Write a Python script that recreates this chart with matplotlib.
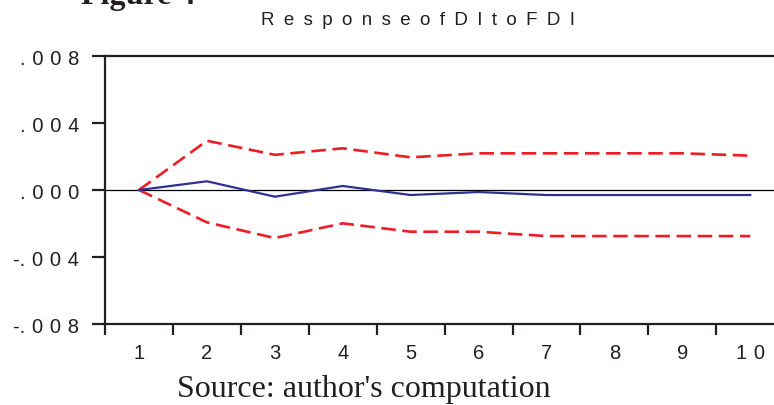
import matplotlib.pyplot as plt

periods = [1, 2, 3, 4, 5, 6, 7, 8, 9, 10]
response = [0.0, 0.00052, -0.0004, 0.00024, -0.0003, -0.00012, -0.0003, -0.0003, -0.0003, -0.0003]
upper = [0.0, 0.00294, 0.0021, 0.00249, 0.00195, 0.00219, 0.00219, 0.00219, 0.00219, 0.00205]
lower = [0.0, -0.00193, -0.00287, -0.00199, -0.00249, -0.00249, -0.00275, -0.00275, -0.00275, -0.00275]

yticks = [-0.008, -0.004, 0.0, 0.004, 0.008]
ytick_labels = ["-.008", "-.004", ".000", ".004", ".008"]


def spaced(s, sp="\u2004"):
    return sp.join(list(s)).replace("-" + sp, "-")


fig = plt.figure(figsize=(7.74, 4.06), dpi=100)
ax = fig.add_axes([0.1357, 0.1995, 0.8643, 0.6601])

ax.axhline(0, color="black", lw=0.9, zorder=1)
ax.plot(periods, upper, color="#EE1C25", lw=1.9, dashes=(5.5, 2.5), zorder=2)
ax.plot(periods, lower, color="#EE1C25", lw=1.9, dashes=(5.5, 2.5), zorder=2)
ax.plot(periods, response, color="#2E3192", lw=1.6, zorder=3)

ax.set_xlim(0.5, 10.35)
ax.set_ylim(-0.008, 0.008)

for side in ["left", "bottom", "top"]:
    ax.spines[side].set_linewidth(1.6)
    ax.spines[side].set_color("#231F20")
ax.spines["right"].set_visible(False)

ax.set_yticks(yticks)
ax.set_yticklabels([spaced(t) for t in ytick_labels], fontfamily="Liberation Sans",
                   fontsize=14.5, color="#231F20")
ax.tick_params(axis="y", direction="out", length=9.5, width=1.6, pad=9, colors="#231F20")

ax.set_xticks([p - 0.5 for p in periods])
ax.set_xticklabels([])
ax.tick_params(axis="x", which="major", direction="out", length=8, width=1.6, colors="#231F20")
ax.set_xticks(periods, minor=True)
ax.set_xticklabels([spaced(str(p)) for p in periods], minor=True,
                   fontfamily="Liberation Sans", fontsize=14.5, color="#231F20")
ax.tick_params(axis="x", which="minor", length=0, pad=14)

fig.text(0.54, 0.95, spaced("ResponseofDItoFDI", "\u2002"), ha="center", va="center",
         fontfamily="Liberation Sans", fontsize=13.5, color="#231F20")
fig.text(0.105, 1 - 4 / 406, "Figure 4", ha="left", va="baseline",
         fontfamily="Liberation Serif", fontweight="bold", fontsize=23, color="#231F20")
fig.text(0.229, 1 - 397 / 406, "Source: author's computation", ha="left", va="baseline",
         fontfamily="Liberation Serif", fontsize=23, color="#231F20")

fig.savefig("out.png", dpi=100)
